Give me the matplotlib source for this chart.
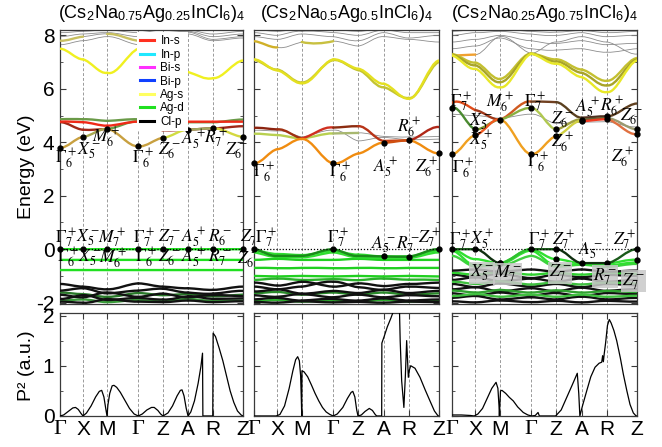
import matplotlib

matplotlib.use("Agg")
import matplotlib.pyplot as plt
from matplotlib.lines import Line2D
from matplotlib.patches import PathPatch
from matplotlib.path import Path
from matplotlib.ticker import MultipleLocator

plt.rcParams["font.family"] = ["Liberation Sans", "DejaVu Sans"]
plt.rcParams["mathtext.fontset"] = "stix"
plt.rcParams["axes.unicode_minus"] = False

# high-symmetry path, shared by all three supercells
K_NODES = [0.0, 0.126, 0.258, 0.428, 0.563, 0.700, 0.836, 1.0]
K_LABELS = ["Γ", "X", "M", "Γ", "Z", "A", "R", "Z"]

TITLES = [
    r"(Cs$_\mathregular{2}$Na$_\mathregular{0.75}$Ag$_\mathregular{0.25}$InCl$_\mathregular{6}$)$_\mathregular{4}$",
    r"(Cs$_\mathregular{2}$Na$_\mathregular{0.5}$Ag$_\mathregular{0.5}$InCl$_\mathregular{6}$)$_\mathregular{4}$",
    r"(Cs$_\mathregular{2}$Na$_\mathregular{0.25}$Ag$_\mathregular{0.75}$InCl$_\mathregular{6}$)$_\mathregular{4}$",
]

ORBITALS = ["In-s", "In-p", "Bi-s", "Bi-p", "Ag-s", "Ag-d", "Cl-p"]
ORBITAL_COLORS = ["#ff3020", "#20e8ff", "#ff30ff", "#1040ff", "#ffff60", "#20e020", "black"]

GREY = "#8c8c8c"

# band energies (eV) at  G, mid, X, mid, M, mid, G, mid, Z, mid, A, mid, R, mid, Z
P1_BANDS = {
    "g1": [7.65, 7.72, 7.80, 7.88, 7.95, 7.82, 7.65, 7.78, 7.90, 7.98, 8.05, 7.92, 7.80, 7.85, 7.90],
    "g2": [7.95, 8.00, 8.05, 8.08, 8.10, 8.03, 7.95, 8.03, 8.10, 8.13, 8.15, 8.05, 7.95, 8.00, 8.05],
    "g3": [8.10, 8.12, 8.15, 8.18, 8.20, 8.15, 8.10, 8.15, 8.20, 8.20, 8.20, 8.12, 8.05, 8.10, 8.15],
    "ag2": [7.80, 7.86, 7.95, 8.02, 8.05, 7.95, 7.80, 7.92, 8.02, 8.10, 8.12, 7.98, 7.85, 7.90, 7.95],
    "ag1": [7.50, 7.30, 7.10, 6.80, 6.60, 6.95, 7.50, 7.90, 8.30, 7.60, 6.63, 6.45, 6.40, 6.70, 7.06],
    "cb4": [4.86, 4.87, 4.86, 4.84, 4.80, 4.84, 4.86, 4.84, 4.80, 4.78, 4.75, 4.75, 4.75, 4.80, 4.85],
    "cb2": [4.75, 4.62, 4.47, 4.47, 4.50, 4.66, 4.78, 4.64, 4.45, 4.45, 4.47, 4.50, 4.52, 4.56, 4.60],
    "cb3": [4.77, 4.77, 4.75, 4.68, 4.62, 4.70, 4.77, 4.77, 4.77, 4.77, 4.77, 4.77, 4.77, 4.77, 4.77],
    "cb1": [3.80, 3.98, 4.20, 4.37, 4.50, 4.15, 3.85, 3.98, 4.17, 4.33, 4.47, 4.50, 4.52, 4.38, 4.20],
    "vb1": [0.00, 0.00, 0.00, 0.00, 0.00, 0.00, 0.00, 0.00, 0.00, 0.00, 0.00, 0.00, 0.00, 0.00, 0.00],
    "vb2": [-0.40, -0.40, -0.40, -0.40, -0.40, -0.40, -0.40, -0.40, -0.40, -0.40, -0.40, -0.40, -0.40, -0.40, -0.40],
    "vb3": [-0.78, -0.78, -0.78, -0.78, -0.78, -0.78, -0.78, -0.78, -0.78, -0.78, -0.78, -0.78, -0.78, -0.78, -0.78],
    "dg1": [-1.62, -1.65, -1.68, -1.74, -1.78, -1.72, -1.64, -1.68, -1.72, -1.70, -1.68, -1.72, -1.76, -1.74, -1.70],
    "dg2": [-1.92, -1.90, -1.88, -1.93, -1.98, -1.94, -1.90, -1.93, -1.95, -1.90, -1.86, -1.90, -1.93, -1.92, -1.92],
    "bk1": [-1.30, -1.35, -1.40, -1.46, -1.50, -1.40, -1.28, -1.34, -1.40, -1.44, -1.46, -1.50, -1.52, -1.46, -1.40],
    "bk2": [-1.55, -1.50, -1.46, -1.56, -1.65, -1.60, -1.55, -1.50, -1.48, -1.56, -1.62, -1.66, -1.66, -1.60, -1.56],
    "bk3": [-1.70, -1.76, -1.80, -1.70, -1.62, -1.70, -1.78, -1.72, -1.66, -1.74, -1.80, -1.75, -1.72, -1.73, -1.76],
    "bk4": [-1.86, -1.80, -1.72, -1.80, -1.90, -1.86, -1.82, -1.86, -1.88, -1.84, -1.76, -1.80, -1.86, -1.85, -1.84],
    "bk5": [-1.96, -1.98, -2.00, -1.95, -1.86, -1.92, -1.96, -1.97, -1.98, -1.95, -1.92, -1.95, -1.98, -1.96, -1.95],
}
P1_COLORS = {
    "g1": GREY, "g2": GREY, "g3": GREY,
    "ag2": ["#c8c060", GREY, "#c8c060", GREY, GREY, GREY, GREY],
    "ag1": ["#f0f020", "#f0f020", "#f0f020", None, None, "#f0f020", "#f0f020"],
    "cb4": "#6a9a48",
    "cb2": ["#a02818", "#a02818", "#6aa048", "#a02818", "#a02818", "#8a3020", "#a02818"],
    "cb3": "#f02a18",
    "cb1": ["#c8a040", "#a8a850", "#c8a040", "#c8a040", "#d0dc40", "#a0a860", "#d4d840"],
    "vb1": "#20e020", "vb2": "#20e020", "vb3": "#20e020",
    "dg1": "#2a7a2a", "dg2": "#3a9a3a",
    "bk1": "#111111", "bk2": "#111111", "bk3": "#111111", "bk4": "#111111", "bk5": "#111111",
}
P1_DOTS = [("vb1", i) for i in range(8)] + [("cb1", i) for i in range(8)]
P1_LABELS = [
    (r"$\Gamma_6^+$", 0.030, 3.38, False), (r"$X_5^-$", 0.158, 3.70, False),
    (r"$M_6^+$", 0.250, 4.15, False), (r"$\Gamma_6^+$", 0.454, 3.38, False),
    (r"$Z_6^-$", 0.600, 3.67, False), (r"$A_5^+$", 0.727, 4.08, False),
    (r"$R_7^+$", 0.853, 4.15, False), (r"$Z_6^-$", 0.967, 3.70, False),
    (r"$\Gamma_7^+$", 0.035, 0.42, False), (r"$X_5^-$", 0.153, 0.42, False),
    (r"$M_7^+$", 0.284, 0.42, False), (r"$\Gamma_7^+$", 0.459, 0.42, False),
    (r"$Z_7^-$", 0.596, 0.42, False), (r"$A_5^+$", 0.727, 0.42, False),
    (r"$R_6^-$", 0.874, 0.42, False), (r"$Z_7^-$", 1.045, 0.42, False),
    (r"$\Gamma_6^+$", 0.044, -0.33, False), (r"$X_5^-$", 0.164, -0.33, False),
    (r"$M_6^+$", 0.290, -0.35, False), (r"$\Gamma_6^+$", 0.470, -0.33, False),
    (r"$Z_6^-$", 0.596, -0.33, False), (r"$A_5^+$", 0.727, -0.33, False),
    (r"$R_7^-$", 0.874, -0.33, False), (r"$Z_6^-$", 1.030, -0.38, False),
]

P2_BANDS = {
    "u2": [7.95, 7.90, 7.85, 7.95, 8.05, 8.00, 7.95, 7.85, 7.80, 7.95, 8.10, 8.00, 7.90, 7.95, 8.00],
    "u3": [8.10, 8.05, 8.00, 8.10, 8.15, 8.15, 8.10, 8.05, 8.00, 8.10, 8.20, 8.15, 8.10, 8.10, 8.10],
    "u4": [8.20, 8.18, 8.15, 8.20, 8.25, 8.22, 8.20, 8.18, 8.15, 8.20, 8.25, 8.22, 8.20, 8.20, 8.20],
    "u1": [7.78, 7.65, 7.55, 7.60, 7.75, 7.70, 7.78, 7.70, 7.60, 7.80, 7.95, 7.90, 7.85, 7.80, 7.75],
    "ag2": [7.08, 6.88, 6.72, 6.45, 6.24, 6.62, 7.07, 6.93, 6.70, 6.35, 6.06, 5.82, 5.66, 6.25, 7.00],
    "ag1": [7.10, 6.90, 6.69, 6.42, 6.21, 6.60, 7.10, 6.95, 6.75, 6.45, 6.19, 5.88, 5.63, 6.30, 7.06],
    "cb4": [4.45, 4.44, 4.42, 4.35, 4.20, 4.35, 4.45, 4.30, 4.05, 4.12, 4.18, 4.14, 4.10, 4.10, 4.12],
    "cb3": [4.32, 4.30, 4.27, 4.20, 4.15, 4.25, 4.33, 4.34, 4.35, 4.30, 4.22, 4.20, 4.20, 4.20, 4.22],
    "cb2": [4.54, 4.52, 4.48, 4.35, 4.15, 4.40, 4.55, 4.58, 4.60, 4.35, 4.05, 4.06, 4.07, 4.35, 4.57],
    "cb1": [3.22, 3.45, 3.74, 3.95, 4.12, 3.70, 3.21, 3.35, 3.58, 3.80, 3.98, 4.03, 4.07, 3.82, 3.58],
    "vb6": [-1.00, -1.01, -1.02, -1.01, -1.00, -1.01, -1.02, -1.01, -1.00, -1.01, -1.02, -1.01, -1.00, -1.01, -1.02],
    "vb5": [-0.70, -0.70, -0.71, -0.71, -0.70, -0.70, -0.71, -0.71, -0.70, -0.70, -0.71, -0.71, -0.70, -0.70, -0.70],
    "vb4": [-0.40, -0.38, -0.36, -0.38, -0.40, -0.40, -0.40, -0.38, -0.36, -0.38, -0.40, -0.40, -0.40, -0.40, -0.40],
    "vb3": [-0.12, -0.22, -0.28, -0.30, -0.30, -0.22, -0.12, -0.22, -0.30, -0.32, -0.32, -0.32, -0.32, -0.22, -0.12],
    "vb2": [-0.05, -0.12, -0.18, -0.20, -0.22, -0.14, -0.05, -0.14, -0.20, -0.24, -0.27, -0.27, -0.27, -0.15, -0.05],
    "vb1": [0.00, -0.15, -0.25, -0.25, -0.25, -0.12, 0.00, -0.15, -0.25, -0.26, -0.27, -0.28, -0.28, -0.12, 0.00],
    "dg1": [-1.15, -1.12, -1.10, -1.12, -1.15, -1.14, -1.12, -1.14, -1.16, -1.12, -1.10, -1.12, -1.14, -1.14, -1.15],
    "dg2": [-1.65, -1.62, -1.60, -1.65, -1.70, -1.66, -1.62, -1.66, -1.70, -1.66, -1.62, -1.66, -1.70, -1.68, -1.65],
    "dg3": [-1.94, -1.92, -1.90, -1.93, -1.96, -1.94, -1.92, -1.94, -1.96, -1.93, -1.90, -1.93, -1.96, -1.95, -1.94],
    "bk1": [-1.25, -1.30, -1.36, -1.30, -1.22, -1.30, -1.40, -1.35, -1.28, -1.32, -1.38, -1.34, -1.30, -1.28, -1.25],
    "bk2": [-1.40, -1.45, -1.50, -1.45, -1.40, -1.28, -1.22, -1.30, -1.42, -1.48, -1.52, -1.45, -1.40, -1.42, -1.45],
    "bk3": [-1.58, -1.55, -1.50, -1.58, -1.66, -1.62, -1.56, -1.60, -1.64, -1.58, -1.52, -1.58, -1.64, -1.60, -1.56],
    "bk4": [-1.72, -1.76, -1.78, -1.72, -1.68, -1.74, -1.80, -1.74, -1.70, -1.75, -1.80, -1.76, -1.72, -1.74, -1.76],
    "bk5": [-1.88, -1.84, -1.82, -1.88, -1.92, -1.88, -1.86, -1.90, -1.92, -1.88, -1.84, -1.88, -1.92, -1.90, -1.88],
    "bk6": [-1.97, -1.99, -2.00, -1.97, -1.95, -1.97, -1.99, -1.98, -1.97, -1.99, -2.00, -1.98, -1.96, -1.97, -1.98],
}
P2_COLORS = {
    "u2": GREY, "u3": GREY, "u4": GREY,
    "u1": ["#d0b028", GREY, "#c8c040", GREY, GREY, GREY, GREY],
    "ag2": "#c4c430", "ag1": "#e4e020",
    "cb4": GREY,
    "cb3": ["#b8d050", "#b8d050", "#b8d050", "#a8b870", GREY, GREY, GREY],
    "cb2": ["#8c2410", "#a03010", "#d03020", "#8c2c10", "#b83418", "#c84018", "#b02818"],
    "cb1": ["#f08c10", "#f08c10", "#f08c10", "#f08c10", "#f08c10", "#d05010", "#f08c10"],
    "vb6": "#20d020", "vb5": "#20d020", "vb4": "#20d020", "vb3": "#30dd30", "vb2": "#30dd30",
    "vb1": "#1a8a1a",
    "dg1": "#2ab02a", "dg2": "#2a8a2a", "dg3": "#30b030",
    "bk1": "#111111", "bk2": "#111111", "bk3": "#111111", "bk4": "#111111", "bk5": "#111111",
    "bk6": "#111111",
}
P2_DOTS = [("vb1", 0), ("vb1", 3), ("vb1", 5), ("vb1", 6), ("vb1", 7),
           ("cb1", 0), ("cb1", 3), ("cb1", 5), ("cb1", 6), ("cb1", 7)]
P2_LABELS = [
    (r"$\Gamma_6^+$", 0.054, 2.86, False), (r"$\Gamma_6^+$", 0.465, 2.86, False),
    (r"$A_5^+$", 0.708, 3.05, False), (r"$Z_6^+$", 0.935, 3.05, False),
    (r"$R_6^+$", 0.838, 4.53, False),
    (r"$\Gamma_7^+$", 0.065, 0.42, False), (r"$\Gamma_7^+$", 0.454, 0.42, False),
    (r"$A_5^-$", 0.697, 0.16, False), (r"$R_7^-$", 0.832, 0.16, False),
    (r"$Z_7^+$", 0.951, 0.42, False),
]

P3_BANDS = {
    "g1": [7.50, 7.55, 7.60, 7.75, 7.90, 7.70, 7.50, 7.45, 7.45, 7.48, 7.50, 7.42, 7.37, 7.42, 7.50],
    "g2": [7.75, 7.80, 7.85, 7.92, 8.00, 7.90, 7.80, 7.72, 7.70, 7.75, 7.80, 7.72, 7.65, 7.68, 7.70],
    "g3": [8.00, 8.05, 8.10, 8.12, 8.15, 8.10, 8.05, 8.00, 8.00, 8.05, 8.10, 8.02, 7.95, 7.98, 8.00],
    "g4": [8.15, 8.18, 8.20, 8.22, 8.25, 8.20, 8.15, 8.12, 8.12, 8.15, 8.18, 8.14, 8.10, 8.12, 8.15],
    "or1": [7.25, 7.26, 7.28, 7.60, 7.95, 7.70, 7.32, 7.55, 7.75, 7.85, 7.95, 7.85, 7.75, 7.50, 7.30],
    "ag3": [7.30, 7.12, 6.98, 6.65, 6.37, 6.85, 7.32, 7.20, 7.10, 6.92, 6.72, 6.48, 6.30, 6.70, 7.15],
    "ag2": [7.28, 7.05, 6.88, 6.52, 6.25, 6.75, 7.31, 7.15, 7.02, 6.82, 6.60, 6.32, 6.13, 6.55, 7.10],
    "ag1": [7.25, 6.95, 6.75, 6.35, 6.06, 6.60, 7.31, 7.10, 6.94, 6.70, 6.44, 6.10, 5.88, 6.40, 7.06],
    "cb4": [5.05, 5.02, 5.00, 4.95, 4.90, 4.98, 5.05, 4.90, 4.70, 4.72, 4.75, 4.76, 4.77, 4.65, 4.58],
    "cb3": [5.48, 5.45, 5.20, 5.00, 4.85, 5.25, 5.52, 5.52, 5.50, 5.20, 4.92, 4.95, 4.97, 5.20, 5.45],
    "cb2": [5.30, 4.95, 4.48, 4.65, 4.85, 5.10, 5.28, 4.90, 4.48, 4.70, 4.85, 4.88, 4.90, 4.70, 4.48],
    "cb1": [3.56, 3.90, 4.26, 4.60, 4.85, 4.20, 3.56, 3.85, 4.23, 4.55, 4.79, 4.83, 4.86, 4.55, 4.30],
    "bk1": [-0.95, -1.00, -1.05, -0.98, -0.92, -1.00, -1.08, -1.02, -0.95, -1.00, -1.05, -1.00, -0.96, -0.98, -1.00],
    "bk2": [-1.15, -1.10, -1.05, -1.12, -1.20, -1.15, -1.10, -1.15, -1.22, -1.15, -1.10, -1.16, -1.22, -1.18, -1.15],
    "bk3": [-1.30, -1.36, -1.42, -1.35, -1.28, -1.34, -1.40, -1.35, -1.30, -1.36, -1.42, -1.36, -1.30, -1.32, -1.35],
    "bk4": [-1.50, -1.46, -1.42, -1.50, -1.58, -1.52, -1.46, -1.52, -1.58, -1.50, -1.44, -1.50, -1.56, -1.52, -1.50],
    "bk5": [-1.65, -1.70, -1.74, -1.68, -1.62, -1.68, -1.74, -1.68, -1.64, -1.70, -1.75, -1.70, -1.64, -1.66, -1.68],
    "bk6": [-1.82, -1.78, -1.75, -1.82, -1.88, -1.84, -1.80, -1.84, -1.88, -1.82, -1.78, -1.82, -1.88, -1.85, -1.82],
    "bk7": [-1.95, -1.97, -1.99, -1.95, -1.92, -1.95, -1.98, -1.96, -1.93, -1.96, -1.99, -1.96, -1.93, -1.95, -1.96],
    "dg1": [-0.88, -0.92, -0.95, -0.90, -0.85, -0.90, -0.95, -0.92, -0.88, -0.92, -0.95, -0.92, -0.88, -0.90, -0.92],
    "dg2": [-1.22, -1.25, -1.30, -1.25, -1.20, -1.26, -1.32, -1.28, -1.24, -1.28, -1.32, -1.28, -1.25, -1.26, -1.28],
    "dg3": [-1.55, -1.58, -1.62, -1.58, -1.52, -1.58, -1.62, -1.58, -1.54, -1.58, -1.62, -1.60, -1.56, -1.58, -1.60],
    "dg4": [-1.75, -1.72, -1.68, -1.72, -1.78, -1.74, -1.70, -1.74, -1.78, -1.74, -1.70, -1.74, -1.78, -1.76, -1.74],
    "vb5": [-0.80, -0.78, -0.76, -0.80, -0.84, -0.80, -0.76, -0.80, -0.84, -0.80, -0.76, -0.80, -0.84, -0.82, -0.80],
    "vb4": [-0.25, -0.45, -0.65, -0.62, -0.60, -0.45, -0.25, -0.45, -0.65, -0.62, -0.58, -0.62, -0.66, -0.60, -0.55],
    "vb3": [-0.05, -0.35, -0.60, -0.58, -0.55, -0.30, -0.05, -0.35, -0.60, -0.58, -0.55, -0.60, -0.62, -0.55, -0.50],
    "vb2": [0.00, -0.20, -0.37, -0.45, -0.52, -0.25, 0.00, -0.20, -0.37, -0.45, -0.52, -0.55, -0.55, -0.45, -0.40],
    "vb1": [0.00, 0.00, 0.00, -0.25, -0.52, -0.25, 0.00, 0.00, 0.00, -0.25, -0.52, -0.52, -0.52, -0.25, 0.00],
}
P3_COLORS = {
    "g1": GREY, "g2": GREY, "g3": GREY, "g4": GREY,
    "or1": ["#f0a030", GREY, GREY, GREY, GREY, GREY, GREY],
    "ag3": "#c4c030", "ag2": "#a8a428", "ag1": "#e8e828",
    "cb4": GREY,
    "cb3": ["#e04a18", "#a03818", "#d05a20", "#704020", "#5a4020", "#503020", "#604020"],
    "cb2": ["#4a8a30", "#7a9a30", "#8ab040", "#b0c850", "#a0a040", "#606030", "#9a9a70"],
    "cb1": ["#f0a020", "#f05a20", "#f0a020", "#f0a020", "#d0d040", "#f03a20", "#e07040"],
    "bk1": "#111111", "bk2": "#111111", "bk3": "#111111", "bk4": "#111111", "bk5": "#111111",
    "bk6": "#111111", "bk7": "#111111",
    "dg1": "#30d030", "dg2": "#40c040", "dg3": "#30a030", "dg4": "#40c040",
    "vb5": "#111111", "vb4": "#40d040", "vb3": "#30e030", "vb2": "#30e030",
    "vb1": ["#1a5a1a", "#103010", "#30c030", "#1a5a1a", "#103010", "#103010", "#1a5a1a"],
}
P3_DOTS = ([("vb1", i) for i in range(8)]
           + [("vb2", 2), ("vb2", 4), ("vb2", 7)]
           + [("cb1", i) for i in range(8)]
           + [("cb2", i) for i in (0, 1, 3, 4, 5, 7)]
           + [("cb3", 6)])
P3_LABELS = [
    (r"$\Gamma_7^+$", 0.050, 5.48, False), (r"$M_6^+$", 0.260, 5.48, False),
    (r"$\Gamma_7^+$", 0.450, 5.50, False), (r"$X_5^-$", 0.157, 4.78, False),
    (r"$X_5^+$", 0.157, 4.05, False), (r"$Z_6^-$", 0.595, 4.86, False),
    (r"$Z_6^+$", 0.600, 3.97, False), (r"$A_5^+$", 0.730, 5.27, False),
    (r"$R_6^+$", 0.865, 5.34, False), (r"$Z_6^-$", 0.970, 4.97, False),
    (r"$Z_6^+$", 0.920, 3.40, False), (r"$\Gamma_6^+$", 0.060, 3.00, False),
    (r"$\Gamma_6^+$", 0.465, 3.22, False),
    (r"$\Gamma_7^+$", 0.043, 0.35, False), (r"$X_5^+$", 0.162, 0.35, False),
    (r"$\Gamma_7^+$", 0.470, 0.35, False), (r"$Z_7^+$", 0.605, 0.35, False),
    (r"$A_5^-$", 0.746, -0.07, False), (r"$Z_7^+$", 0.935, 0.35, False),
    (r"$X_5^-$", 0.162, -0.88, True), (r"$M_7^-$", 0.300, -0.92, True),
    (r"$Z_7^-$", 0.584, -0.88, True), (r"$R_7^-$", 0.827, -1.02, True),
    (r"$Z_7^-$", 0.980, -1.20, True),
]

# squared momentum matrix elements along the same path
P1_PK = [0.0, 0.02, 0.045, 0.07, 0.085, 0.1, 0.115, 0.126,
         0.145, 0.17, 0.195, 0.215, 0.228, 0.24, 0.25, 0.257,
         0.262, 0.272, 0.285, 0.295, 0.31, 0.33, 0.355, 0.38, 0.405, 0.428,
         0.45, 0.475, 0.5, 0.515, 0.535, 0.55, 0.563,
         0.59, 0.615, 0.64, 0.658, 0.667, 0.678, 0.69, 0.70,
         0.715, 0.735, 0.755, 0.77, 0.779, 0.781, 0.835,
         0.837, 0.85, 0.87, 0.89, 0.91, 0.93, 0.95, 0.97, 0.99, 1.0]
P1_PV = [0.0, 0.02, 0.09, 0.16, 0.17, 0.13, 0.05, 0.0,
         0.06, 0.2, 0.38, 0.49, 0.51, 0.38, 0.15, 0.0,
         0.22, 0.45, 0.6, 0.61, 0.57, 0.47, 0.31, 0.15, 0.04, 0.0,
         0.04, 0.12, 0.17, 0.17, 0.11, 0.04, 0.0,
         0.06, 0.2, 0.4, 0.51, 0.52, 0.4, 0.15, 0.0,
         0.08, 0.3, 0.65, 0.98, 1.25, 0.0, 0.0,
         1.65, 1.58, 1.35, 1.1, 0.8, 0.5, 0.27, 0.1, 0.02, 0.0]

P2_PK = [0.0, 0.12, 0.14, 0.165, 0.19, 0.21, 0.225, 0.236, 0.245, 0.252, 0.256, 0.258,
         0.259, 0.27, 0.29, 0.31, 0.33, 0.35, 0.37, 0.39, 0.41, 0.428,
         0.45, 0.48, 0.505, 0.525, 0.534, 0.545, 0.555, 0.562,
         0.58, 0.6, 0.623, 0.64, 0.655, 0.663, 0.69,
         0.691, 0.705, 0.72, 0.74, 0.755, 0.77, 0.785, 0.79, 0.798, 0.81, 0.818, 0.825,
         0.83, 0.834, 0.84, 0.847, 0.87, 0.897, 0.925, 0.951, 0.975, 0.995, 1.0]
P2_PV = [0.0, 0.0, 0.03, 0.2, 0.55, 0.9, 1.12, 1.18, 1.1, 0.8, 0.3, 0.0,
         0.9, 0.88, 0.78, 0.62, 0.45, 0.3, 0.17, 0.08, 0.03, 0.0,
         0.04, 0.17, 0.35, 0.47, 0.49, 0.38, 0.12, 0.0,
         0.02, 0.09, 0.15, 0.11, 0.03, 0.0, 0.0,
         1.45, 1.6, 1.77, 1.95, 2.1, 2.4, 2.3, 1.5, 0.7, 0.17, 0.8, 1.5,
         1.1, 0.77, 0.92, 1.0, 0.95, 0.77, 0.52, 0.3, 0.1, 0.0, 0.0]

P3_PK = [0.0, 0.05, 0.1, 0.12, 0.14, 0.165, 0.19, 0.215, 0.238, 0.248, 0.254, 0.256,
         0.262, 0.27, 0.29, 0.31, 0.331, 0.355, 0.385, 0.41, 0.43, 0.45, 0.465, 0.472, 0.56,
         0.59, 0.62, 0.65, 0.677, 0.685, 0.691,
         0.705, 0.728, 0.75, 0.773, 0.795, 0.809, 0.814, 0.818, 0.823, 0.83, 0.84, 0.85,
         0.86, 0.875, 0.89, 0.91, 0.926, 0.945, 0.962, 0.98, 0.995, 1.0]
P3_PV = [0.02, 0.02, 0.01, 0.0, 0.04, 0.15, 0.35, 0.55, 0.67, 0.55, 0.2, 0.0,
         0.5, 0.51, 0.45, 0.37, 0.3, 0.18, 0.07, 0.02, 0.0, 0.01, 0.07, 0.0, 0.0,
         0.12, 0.37, 0.62, 0.85, 0.45, 0.0,
         0.2, 0.5, 0.78, 0.97, 1.05, 1.07, 1.2, 1.08, 1.25, 1.45, 1.8, 1.92,
         1.85, 1.7, 1.5, 1.15, 0.83, 0.5, 0.23, 0.06, 0.0, 0.0]

PANELS = [
    (P1_BANDS, P1_COLORS, P1_DOTS, P1_LABELS, P1_PK, P1_PV),
    (P2_BANDS, P2_COLORS, P2_DOTS, P2_LABELS, P2_PK, P2_PV),
    (P3_BANDS, P3_COLORS, P3_DOTS, P3_LABELS, P3_PK, P3_PV),
]

FRAME = "#3a3a3a"
LEFTS = [0.0906, 0.3837, 0.6828]
WIDTHS = [0.2764, 0.2795, 0.2795]


def draw_band(ax, values, colors):
    """Each k segment is a cubic Bezier through the node and midpoint energies."""
    if isinstance(colors, str):
        colors = [colors] * 7
    for i, color in enumerate(colors):
        if color is None:
            continue
        k0, k1 = K_NODES[i], K_NODES[i + 1]
        v0, vm, v1 = values[2 * i], values[2 * i + 1], values[2 * i + 2]
        step = (k1 - k0) / 3
        bulge = 4 / 3 * (vm - 0.5 * (v0 + v1))
        path = Path(
            [(k0, v0), (k0 + step, v0 + bulge), (k1 - step, v1 + bulge), (k1, v1)],
            [Path.MOVETO, Path.CURVE4, Path.CURVE4, Path.CURVE4],
        )
        thin = color == GREY
        ax.add_patch(PathPatch(path, fill=False, edgecolor=color,
                               lw=0.6 if thin else 1.7, capstyle="round",
                               zorder=2 if thin else 3))


def style_frame(ax):
    for spine in ax.spines.values():
        spine.set_color(FRAME)
        spine.set_linewidth(0.9)
    ax.tick_params(which="both", direction="in", top=True, right=True,
                   color=FRAME, labelsize=15, pad=4)
    ax.tick_params(which="major", length=4)
    ax.tick_params(which="minor", length=2.5)
    for k in K_NODES[1:-1]:
        ax.axvline(k, color="#9a9a9a", ls=(0, (3, 2)), lw=0.7, zorder=1)


fig = plt.figure(figsize=(6.62, 4.47), dpi=100)

for col, (bands, colors, dots, labels, pk, pv) in enumerate(PANELS):
    ax = fig.add_axes([LEFTS[col], 0.3199, WIDTHS[col], 0.613])
    for name, values in bands.items():
        draw_band(ax, values, colors[name])
    ax.axhline(0, color="black", ls=(0, (1, 1.5)), lw=0.9, zorder=4)
    ax.plot([K_NODES[i] for _, i in dots],
            [bands[name][2 * i] for name, i in dots],
            "o", color="black", ms=3.5, zorder=5, clip_on=False)
    for text, k, e, boxed in labels:
        box = dict(facecolor="#c8c8c8", edgecolor="none", alpha=0.85, pad=0.5) if boxed else None
        ax.text(k, e, text, fontsize=12.5, ha="center", va="center",
                bbox=box, zorder=6, clip_on=False)
    ax.set_xlim(0, 1)
    ax.set_ylim(-2.05, 8.2)
    ax.set_xticks([])
    ax.yaxis.set_major_locator(MultipleLocator(2))
    ax.yaxis.set_minor_locator(MultipleLocator(1))
    style_frame(ax)
    if col == 0:
        ax.set_yticklabels(["", "-2", "0", "2", "4", "6", "8"][: len(ax.get_yticks())])
        handles = [Line2D([], [], color=c, lw=2.2) for c in ORBITAL_COLORS]
        leg = ax.legend(handles, ORBITALS, loc="upper left", bbox_to_anchor=(0.41, 1.0),
                        fontsize=8.5, labelspacing=0.12, handlelength=1.2,
                        handletextpad=0.5, borderpad=0.25, borderaxespad=0.2,
                        frameon=True, fancybox=False)
        leg.get_frame().set_facecolor("white")
        leg.get_frame().set_edgecolor("none")
        leg.get_frame().set_alpha(1)
        leg.set_zorder(7)
    else:
        ax.set_yticklabels([])
    fig.text(LEFTS[col] + WIDTHS[col] / 2, 0.969, TITLES[col],
             fontsize=13, ha="center", va="center")

    bx = fig.add_axes([LEFTS[col], 0.0694, WIDTHS[col], 0.2304])
    bx.plot(pk, pv, color="black", lw=0.9, zorder=3)
    bx.set_xlim(0, 1)
    bx.set_ylim(0, 2.05)
    bx.yaxis.set_major_locator(MultipleLocator(1))
    bx.yaxis.set_minor_locator(MultipleLocator(0.5))
    bx.set_xticks(K_NODES)
    bx.set_xticklabels(K_LABELS)
    style_frame(bx)
    bx.tick_params(axis="x", pad=3)
    for lbl in bx.get_xticklabels():
        if lbl.get_text() == "Γ":
            lbl.set_fontfamily("Liberation Serif")
            lbl.set_fontsize(16)
    if col != 0:
        bx.set_yticklabels([])

fig.text(0.040, 0.626, "Energy (eV)", rotation=90, fontsize=14, ha="center", va="center")
fig.text(0.040, 0.183, "P² (a.u.)", rotation=90, fontsize=14, ha="center", va="center")

fig.savefig("out.png", dpi=100)
plt.close(fig)
